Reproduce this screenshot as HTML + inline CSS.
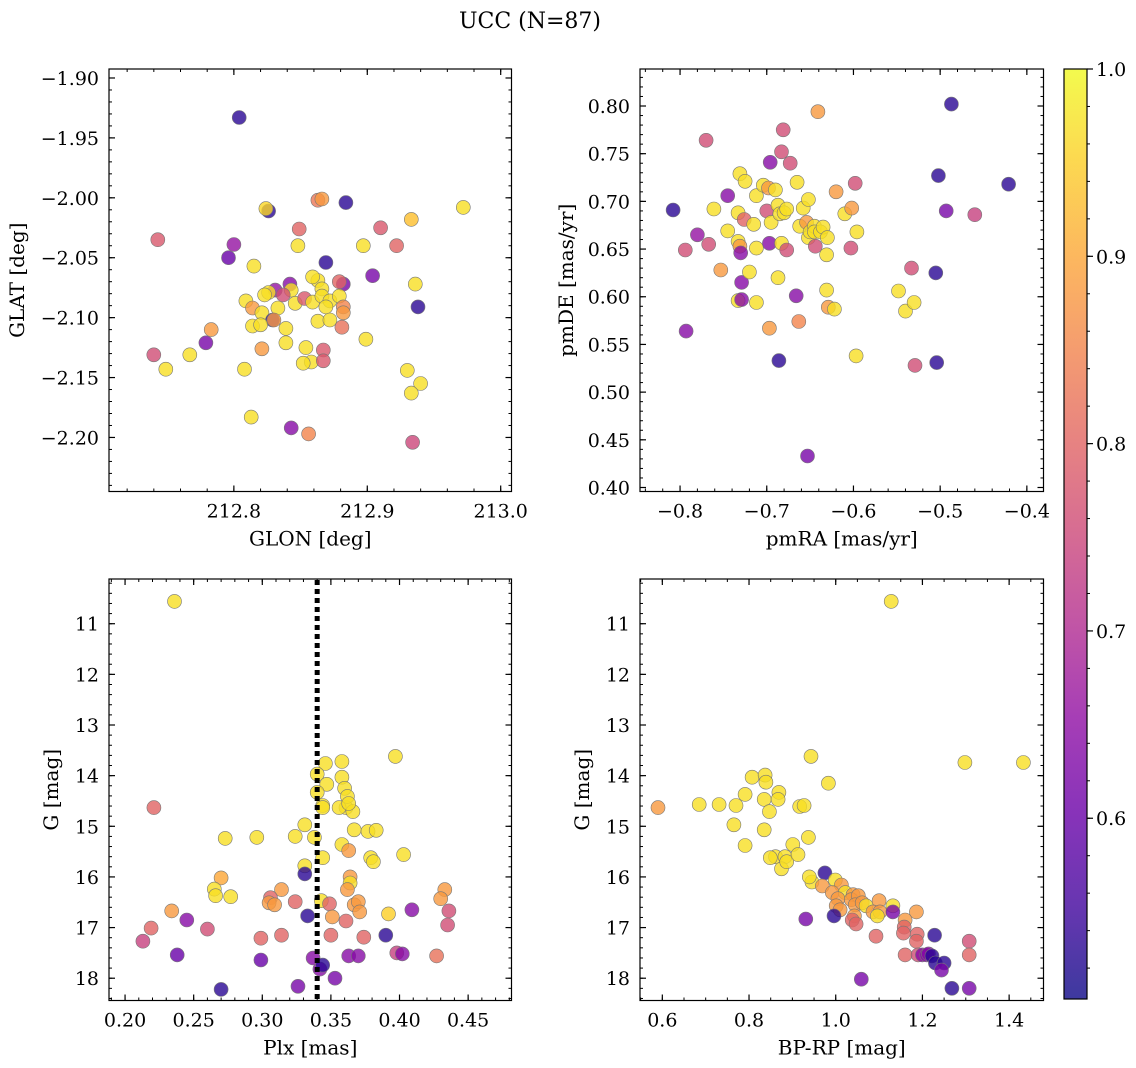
<!DOCTYPE html>
<html><head><meta charset="utf-8">
<style>
html,body{margin:0;padding:0;background:#fff;}
svg{display:block;font-family:"DejaVu Serif","Liberation Serif",serif;}
</style></head>
<body>
<svg id="fig" width="1136" height="1068" viewBox="0 0 1136 1068" xmlns="http://www.w3.org/2000/svg">
<text x="530" y="28" font-size="22" text-anchor="middle">UCC (N=87)</text>
<defs>
<linearGradient id="plasmaGrad" x1="0" y1="1" x2="0" y2="0">
<stop offset="0" stop-color="#0d0887"/><stop offset="0.1" stop-color="#41049d"/><stop offset="0.2" stop-color="#6a00a8"/><stop offset="0.3" stop-color="#8f0da4"/><stop offset="0.4" stop-color="#b12a90"/><stop offset="0.5" stop-color="#cc4778"/><stop offset="0.6" stop-color="#e16462"/><stop offset="0.7" stop-color="#f2844b"/><stop offset="0.8" stop-color="#fca636"/><stop offset="0.9" stop-color="#fcce25"/><stop offset="1" stop-color="#f0f921"/>
</linearGradient>
</defs>
</svg>
<script>
// ---- Panel A: GLON / GLAT ----
const glon=[212.804,212.826,212.824,212.863,212.866,212.884,212.933,212.972,212.910,212.743,212.800,212.796,212.849,212.848,212.897,212.922,212.869,212.815,212.904,212.936,212.882,212.879,212.863,212.859,212.866,212.842,212.843,212.831,212.837,212.826,212.823,212.809,212.814,212.821,212.833,212.846,212.853,212.859,212.866,212.872,212.879,212.882,212.869,212.863,212.872,212.882,212.881,212.829,212.830,212.814,212.820,212.783,212.938,212.839,212.854,212.839,212.899,212.821,212.867,212.740,212.767,212.779,212.858,212.749,212.808,212.852,212.930,212.940,212.933,212.813,212.843,212.856,212.934,212.867];
const glat=[-1.933,-2.011,-2.009,-2.002,-2.001,-2.004,-2.018,-2.008,-2.025,-2.035,-2.039,-2.050,-2.026,-2.040,-2.040,-2.040,-2.054,-2.057,-2.065,-2.072,-2.072,-2.070,-2.069,-2.066,-2.076,-2.072,-2.077,-2.077,-2.081,-2.079,-2.081,-2.086,-2.092,-2.096,-2.092,-2.088,-2.084,-2.087,-2.082,-2.086,-2.082,-2.091,-2.091,-2.103,-2.102,-2.096,-2.108,-2.102,-2.102,-2.107,-2.106,-2.110,-2.091,-2.109,-2.125,-2.121,-2.118,-2.126,-2.127,-2.131,-2.131,-2.121,-2.137,-2.143,-2.143,-2.138,-2.144,-2.155,-2.163,-2.183,-2.192,-2.197,-2.204,-2.136];
const probA=[0.53,0.53,0.96,0.83,0.88,0.53,0.93,0.97,0.78,0.78,0.66,0.6,0.8,0.97,0.97,0.8,0.53,0.97,0.62,0.97,0.62,0.8,0.97,0.97,0.97,0.64,0.97,0.66,0.76,0.97,0.97,0.97,0.88,0.97,0.97,0.97,0.78,0.97,0.97,0.97,0.97,0.85,0.97,0.97,0.97,0.88,0.82,0.53,0.88,0.97,0.97,0.88,0.53,0.97,0.97,0.97,0.97,0.88,0.78,0.76,0.97,0.62,0.97,0.97,0.97,0.97,0.97,0.97,0.97,0.97,0.64,0.85,0.75,0.78];
// ---- Panel B: pmRA / pmDE ----
const pmra=[-0.808,-0.793,-0.794,-0.780,-0.770,-0.767,-0.761,-0.753,-0.745,-0.745,-0.733,-0.733,-0.731,-0.731,-0.725,-0.730,-0.726,-0.733,-0.729,-0.729,-0.720,-0.715,-0.712,-0.712,-0.712,-0.704,-0.698,-0.697,-0.700,-0.696,-0.695,-0.690,-0.697,-0.687,-0.687,-0.685,-0.680,-0.686,-0.683,-0.681,-0.683,-0.677,-0.673,-0.677,-0.665,-0.666,-0.663,-0.662,-0.658,-0.654,-0.652,-0.652,-0.650,-0.645,-0.645,-0.644,-0.641,-0.638,-0.635,-0.630,-0.631,-0.629,-0.622,-0.631,-0.597,-0.620,-0.610,-0.602,-0.596,-0.603,-0.598,-0.653,-0.548,-0.540,-0.533,-0.530,-0.529,-0.505,-0.504,-0.502,-0.493,-0.487,-0.460,-0.421];
const pmde=[0.691,0.564,0.649,0.665,0.764,0.655,0.692,0.628,0.706,0.669,0.688,0.658,0.653,0.729,0.721,0.646,0.681,0.596,0.615,0.597,0.626,0.676,0.706,0.651,0.594,0.717,0.714,0.656,0.690,0.741,0.678,0.712,0.567,0.620,0.696,0.687,0.688,0.533,0.656,0.775,0.752,0.649,0.740,0.692,0.720,0.601,0.574,0.674,0.693,0.678,0.702,0.662,0.668,0.674,0.668,0.653,0.794,0.668,0.673,0.662,0.607,0.589,0.587,0.644,0.538,0.710,0.687,0.693,0.668,0.651,0.719,0.433,0.606,0.585,0.630,0.594,0.528,0.625,0.531,0.727,0.690,0.802,0.686,0.718];
const probB=[0.53,0.64,0.76,0.66,0.76,0.76,0.97,0.88,0.64,0.97,0.97,0.97,0.88,0.97,0.97,0.64,0.8,0.97,0.64,0.64,0.97,0.97,0.97,0.97,0.97,0.97,0.88,0.64,0.76,0.64,0.97,0.97,0.88,0.97,0.97,0.97,0.97,0.53,0.97,0.76,0.76,0.76,0.76,0.97,0.97,0.64,0.85,0.97,0.97,0.88,0.97,0.97,0.97,0.97,0.97,0.76,0.88,0.97,0.97,0.97,0.97,0.88,0.97,0.97,0.97,0.88,0.97,0.88,0.97,0.76,0.76,0.62,0.97,0.97,0.76,0.97,0.76,0.53,0.53,0.53,0.62,0.53,0.74,0.53];
// ---- Panel C: Plx / G ----
const plx=[0.236,0.221,0.397,0.346,0.358,0.340,0.358,0.360,0.347,0.340,0.361,0.344,0.362,0.366,0.356,0.367,0.363,0.377,0.383,0.344,0.331,0.324,0.273,0.296,0.338,0.358,0.363,0.379,0.381,0.403,0.344,0.331,0.331,0.364,0.364,0.270,0.265,0.362,0.314,0.266,0.277,0.306,0.305,0.309,0.324,0.343,0.349,0.367,0.370,0.433,0.430,0.361,0.351,0.392,0.371,0.409,0.436,0.245,0.234,0.333,0.435,0.260,0.219,0.299,0.314,0.350,0.374,0.213,0.390,0.398,0.402,0.427,0.363,0.370,0.337,0.238,0.299,0.342,0.353,0.326,0.344,0.270];
const gC=[10.56,14.63,13.62,13.76,13.72,13.97,14.03,14.25,14.17,14.33,14.63,14.59,14.41,14.71,14.63,15.07,14.55,15.10,15.08,14.63,14.97,15.20,15.24,15.22,15.22,15.36,15.48,15.62,15.70,15.56,15.62,15.78,15.94,16.00,16.12,16.02,16.24,16.25,16.25,16.37,16.39,16.41,16.51,16.55,16.49,16.47,16.53,16.55,16.49,16.25,16.43,16.87,16.79,16.73,16.69,16.65,16.67,16.85,16.67,16.77,16.95,17.03,17.01,17.21,17.15,17.15,17.19,17.27,17.15,17.50,17.52,17.56,17.56,17.56,17.60,17.54,17.64,17.82,18.00,18.16,17.74,18.22];
const probC=[0.97,0.8,0.97,0.97,0.97,0.97,0.97,0.97,0.97,0.97,0.97,0.97,0.97,0.97,0.97,0.97,0.97,0.97,0.97,0.97,0.97,0.97,0.97,0.97,0.97,0.97,0.88,0.97,0.97,0.97,0.97,0.97,0.53,0.88,0.97,0.9,0.97,0.88,0.88,0.97,0.97,0.8,0.88,0.88,0.8,0.97,0.8,0.88,0.88,0.88,0.88,0.8,0.88,0.95,0.88,0.64,0.76,0.64,0.88,0.53,0.76,0.76,0.8,0.8,0.8,0.8,0.8,0.74,0.53,0.74,0.64,0.82,0.64,0.64,0.64,0.6,0.6,0.64,0.62,0.62,0.53,0.53];
// ---- Panel D: BP-RP / G ----
const bprp=[0.590,0.685,0.731,0.770,0.765,0.791,0.807,0.837,0.839,0.835,0.847,0.869,0.867,0.835,0.791,0.861,0.883,0.849,0.875,0.901,0.887,0.913,0.917,0.927,0.943,0.983,0.937,0.945,0.939,0.975,0.999,0.969,1.013,0.992,1.022,1.040,1.005,1.001,1.036,1.052,1.045,1.061,1.070,1.100,1.086,1.043,1.038,1.047,1.010,0.996,1.132,1.102,1.096,1.132,1.160,1.186,1.158,1.156,1.188,1.186,1.093,1.160,1.190,1.228,1.200,1.210,1.214,1.222,1.230,1.250,1.244,1.268,1.308,1.308,1.308,1.059,0.931,1.298,1.433,1.128];
const gD=[14.63,14.57,14.57,14.59,14.97,14.37,14.03,13.99,14.13,14.47,14.71,14.33,14.47,15.07,15.38,15.60,15.60,15.62,15.84,15.36,15.70,15.56,14.61,14.59,13.62,14.15,15.22,16.10,16.00,15.92,16.06,16.18,16.16,16.31,16.31,16.35,16.43,16.57,16.45,16.37,16.55,16.51,16.57,16.47,16.69,16.77,16.85,16.93,16.65,16.77,16.57,16.69,16.77,16.69,16.85,16.69,16.99,17.11,17.13,17.27,17.17,17.54,17.54,17.15,17.54,17.54,17.52,17.56,17.70,17.70,17.84,18.20,17.27,17.54,18.20,18.02,16.83,13.74,13.74,10.56];
const probD=[0.88,0.97,0.97,0.97,0.97,0.97,0.97,0.97,0.97,0.97,0.97,0.97,0.97,0.97,0.97,0.97,0.97,0.97,0.97,0.97,0.97,0.97,0.97,0.97,0.97,0.97,0.97,0.97,0.97,0.53,0.97,0.88,0.88,0.88,0.97,0.88,0.88,0.88,0.88,0.88,0.88,0.88,0.97,0.88,0.88,0.88,0.8,0.8,0.88,0.53,0.97,0.88,0.97,0.62,0.88,0.88,0.8,0.8,0.8,0.8,0.8,0.8,0.76,0.53,0.64,0.64,0.64,0.53,0.53,0.53,0.62,0.53,0.76,0.8,0.62,0.62,0.62,0.97,0.97,0.97];
// ---- Colorbar ----
const cbTicks=[0.6,0.7,0.8,0.9,1.0];
const cbMin=0.5035, cbMax=1.0;
const plxMedian=0.340;

const NS='http://www.w3.org/2000/svg';
const svg=document.getElementById('fig');
function mk(tag,attrs,parent){const e=document.createElementNS(NS,tag);for(const k in attrs)e.setAttribute(k,attrs[k]);(parent||svg).appendChild(e);return e;}
const stops=[[13,8,135],[65,4,157],[106,0,168],[143,13,164],[177,42,144],[204,71,120],[225,100,98],[242,132,75],[252,166,54],[252,206,37],[240,249,33]];
function plasma(v){let t=(v-cbMin)/(cbMax-cbMin);t=Math.max(0,Math.min(1,t))*10;const i=Math.min(9,Math.floor(t)),f=t-i;const a=stops[i],b=stops[i+1];return 'rgb('+[0,1,2].map(k=>Math.round(a[k]+(b[k]-a[k])*f)).join(',')+')';}
function fmt(v,d){const s=Math.abs(v).toFixed(d);return (v<0&&parseFloat(s)!==0?'\u2212':'')+s;}

function panel(id,box,xr,yr,xMaj,xMin,xDec,yMaj,yMin,yDec,xlabel,ylabel,ylabelX,xs,ys,cs){
  const g=mk('g',{});
  
  
  const [L,T,R,B]=box;
  const sx=v=>L+(v-xr[0])/(xr[1]-xr[0])*(R-L);
  const sy=v=>T+(v-yr[0])/(yr[1]-yr[0])*(B-T);
  const pts=mk('g',{},g);
  
  
  for(let i=0;i<xs.length;i++){
    const c=mk('circle',{cx:sx(xs[i]).toFixed(1),cy:sy(ys[i]).toFixed(1),r:7,fill:plasma(cs[i]),'fill-opacity':0.8,stroke:'#777','stroke-width':0.6},pts);
    
    
  }
  const ax=mk('g',{},g);
  
  
  const eps=1e-9;
  function ticks(r,step){const a=Math.min(r[0],r[1]),b=Math.max(r[0],r[1]);const out=[];for(let k=Math.ceil(a/step-eps);k*step<=b+eps;k++)out.push(k*step);return out;}
  ticks(xr,xMin).forEach(v=>{const x=sx(v);mk('line',{x1:x,y1:B,x2:x,y2:B-3,stroke:'#000','stroke-width':1},ax);mk('line',{x1:x,y1:T,x2:x,y2:T+3,stroke:'#000','stroke-width':1},ax);});
  ticks(yr,yMin).forEach(v=>{const y=sy(v);mk('line',{x1:L,y1:y,x2:L+3,y2:y,stroke:'#000','stroke-width':1},ax);mk('line',{x1:R,y1:y,x2:R-3,y2:y,stroke:'#000','stroke-width':1},ax);});
  ticks(xr,xMaj).forEach(v=>{const x=sx(v);mk('line',{x1:x,y1:B,x2:x,y2:B-6,stroke:'#000','stroke-width':1.2},ax);mk('line',{x1:x,y1:T,x2:x,y2:T+6,stroke:'#000','stroke-width':1.2},ax);
    const t=mk('text',{x:x,y:B+26,'font-size':19,'text-anchor':'middle'},ax);t.textContent=fmt(v,xDec);
    });
  ticks(yr,yMaj).forEach(v=>{const y=sy(v);mk('line',{x1:L,y1:y,x2:L+6,y2:y,stroke:'#000','stroke-width':1.2},ax);mk('line',{x1:R,y1:y,x2:R-6,y2:y,stroke:'#000','stroke-width':1.2},ax);
    const t=mk('text',{x:L-10,y:y+7,'font-size':19,'text-anchor':'end'},ax);t.textContent=fmt(v,yDec);
    });
  mk('rect',{x:L,y:T,width:R-L,height:B-T,fill:'none',stroke:'#000','stroke-width':1.2},ax);
  const xl=mk('text',{x:(L+R)/2,y:B+54,'font-size':20,'text-anchor':'middle'},ax);xl.textContent=xlabel;
  
  const ym=(T+B)/2;
  const yl=mk('text',{x:ylabelX,y:ym,'font-size':20,'text-anchor':'middle',transform:'rotate(-90 '+ylabelX+' '+ym+')'},ax);yl.textContent=ylabel;
  
  return {sx,sy,g};
}

panel('panel-position',[109,69,511.5,491.5],[212.7064,213.0081],[-1.8925,-2.2451],0.1,0.02,1,0.05,0.01,2,'GLON [deg]','GLAT [deg]',24,glon,glat,probA);
panel('panel-proper-motion',[640,69,1043.5,491.5],[-0.8462,-0.3808],[0.8388,0.3958],0.1,0.02,1,0.05,0.01,2,'pmRA [mas/yr]','pmDE [mas/yr]',573,pmra,pmde,probB);
const pC=panel('panel-parallax',[109,579,511.5,1000.5],[0.1883,0.4816],[10.117,18.44],0.05,0.01,2,1,0.2,0,'Plx [mas]','G [mag]',58,plx,gC,probC);
const dl=mk('line',{x1:pC.sx(plxMedian),y1:580,x2:pC.sx(plxMedian),y2:999,stroke:'#000','stroke-width':5,'stroke-dasharray':'5,4'},pC.g);


panel('panel-cmd',[640,579,1043.5,1000.5],[0.5485,1.4793],[10.117,18.44],0.2,0.05,1,1,0.2,0,'BP-RP [mag]','G [mag]',589,bprp,gD,probD);

// colorbar
const cb=mk('g',{});


const cT=69,cB=999,cL=1064,cR=1087;
mk('rect',{x:cL,y:cT,width:cR-cL,height:cB-cT,fill:'url(#plasmaGrad)','fill-opacity':0.8},cb);
mk('rect',{x:cL,y:cT,width:cR-cL,height:cB-cT,fill:'none',stroke:'#000','stroke-width':1.2},cb);
const cy=v=>cB-(v-cbMin)/(cbMax-cbMin)*(cB-cT);
for(let k=26;k<=50;k++){const v=k*0.02;mk('line',{x1:cR,y1:cy(v),x2:cR+3,y2:cy(v),stroke:'#000','stroke-width':1},cb);}
cbTicks.forEach(v=>{const y=cy(v);mk('line',{x1:cR,y1:y,x2:cR+6,y2:y,stroke:'#000','stroke-width':1.2},cb);
  const t=mk('text',{x:cR+9,y:y+7,'font-size':19},cb);t.textContent=v.toFixed(1);
  });
</script>
</body></html>
